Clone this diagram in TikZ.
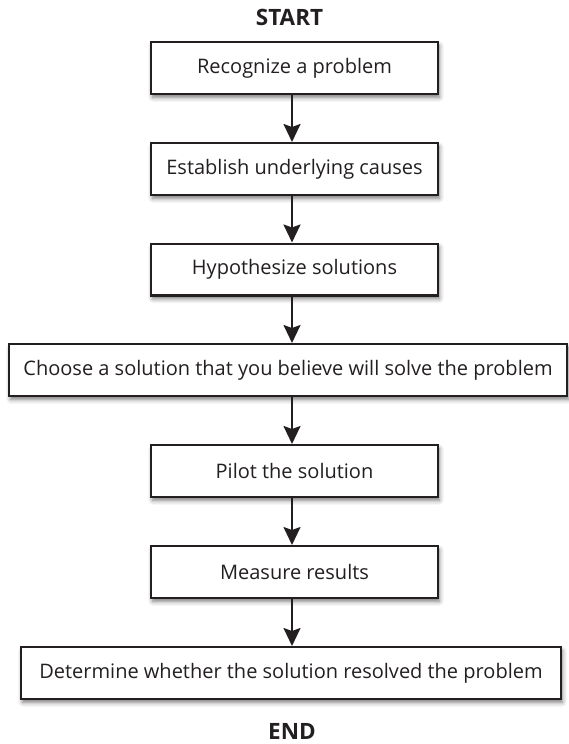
\documentclass[tikz,border=0pt]{standalone}
\usepackage{fontspec}
\setmainfont{Open Sans}
\usetikzlibrary{arrows.meta,shadows.blur}
\definecolor{ink}{HTML}{231F20}
\begin{document}
\begin{tikzpicture}[x=1pt,y=-1pt,
  box/.style={draw=ink, line width=2.4pt, fill=white, minimum height=51.6pt, inner sep=0pt,
    font=\fontsize{20}{24}\selectfont, text=ink,
    blur shadow={shadow xshift=1.5pt, shadow yshift=-3.5pt, shadow blur radius=4.5pt, shadow opacity=55}},
  narrowbox/.style={box, minimum width=286.6pt},
  arr/.style={draw=ink, line width=2.2pt, -{Stealth[length=18pt,width=17pt,inset=3pt]}},
  term/.style={font=\fontsize{22.5}{26}\selectfont\bfseries, text=ink, inner sep=0pt}]
\useasboundingbox (0,0) rectangle (569,744);
\node[term] (start) at (289.5,17) {START};
\node[narrowbox] (b1) at (294.5,68) {Recognize a problem};
\node[narrowbox] (b2) at (294.5,169) {Establish underlying causes};
\node[narrowbox] (b3) at (294.5,269.5) {Hypothesize solutions};
\node[box, minimum width=557.6pt] (b4) at (288,370) {Choose a solution that you believe will solve the problem};
\node[narrowbox] (b5) at (294.5,471) {Pilot the solution};
\node[narrowbox] (b6) at (294.5,572) {Measure results};
\node[box, minimum width=539.6pt] (b7) at (291,673) {Determine whether the solution resolved the problem};
\node[term] (end) at (292,731) {END};
\coordinate (ax) at (292,0);
\draw[arr] (b1.south -| ax) -- (b2.north -| ax);
\draw[arr] (b2.south -| ax) -- (b3.north -| ax);
\draw[arr] (b3.south -| ax) -- (b4.north -| ax);
\draw[arr] (b4.south -| ax) -- (b5.north -| ax);
\draw[arr] (b5.south -| ax) -- (b6.north -| ax);
\draw[arr] (b6.south -| ax) -- (b7.north -| ax);
\end{tikzpicture}
\end{document}
